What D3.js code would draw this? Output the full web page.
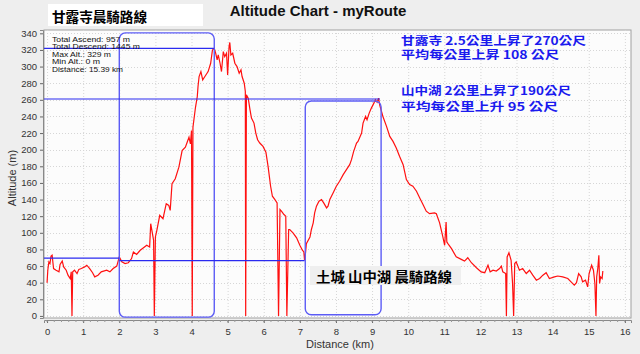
<!DOCTYPE html>
<html>
<head>
<meta charset="utf-8">
<script src="https://cdn.jsdelivr.net/npm/d3@7"></script>
<style>
  html, body { margin: 0; padding: 0; background: #eeeeee; }
  svg { display: block; font-family: "Liberation Sans", Arial, sans-serif; }
  .cjk { font-family: "Noto Sans CJK TC", "Noto Sans CJK SC", sans-serif; }
</style>
</head>
<body>
<div id="chart"></div>
<script>
// profile: distance (km) and altitude (m)
const distKm = [
  0, 0.02, 0.05, 0.08, 0.11, 0.14, 0.18, 0.25, 0.33, 0.36, 0.42, 0.46, 0.53, 0.58, 0.64, 0.67, 0.69, 0.71,
  0.76, 0.83, 0.88, 0.95, 1.04, 1.10, 1.18, 1.26, 1.32, 1.41, 1.50, 1.65, 1.74, 1.83, 1.93, 2.00, 2.07,
  2.16, 2.25, 2.34, 2.39, 2.48, 2.58, 2.67, 2.76, 2.84, 2.87, 2.95, 2.97, 3.00, 3.04, 3.12, 3.21, 3.30,
  3.37, 3.41, 3.46, 3.55, 3.65, 3.74, 3.83, 3.93, 3.97, 4.00, 4.02, 4.04, 4.11, 4.16, 4.18, 4.21, 4.26,
  4.31, 4.37, 4.46, 4.53, 4.58, 4.63, 4.67, 4.71, 4.74, 4.79, 4.83, 4.88, 4.92, 4.97, 5.00, 5.04, 5.06,
  5.09, 5.14, 5.20, 5.26, 5.32, 5.37, 5.40, 5.46, 5.49, 5.50, 5.52, 5.57, 5.62, 5.66, 5.73, 5.78, 5.83,
  5.89, 5.98, 6.06, 6.12, 6.19, 6.24, 6.31, 6.37, 6.41, 6.45, 6.49, 6.56, 6.61, 6.64, 6.69, 6.72, 6.81,
  6.91, 7.00, 7.07, 7.11, 7.13, 7.16, 7.18, 7.28, 7.32, 7.37, 7.41, 7.46, 7.53, 7.60, 7.66, 7.74, 7.78,
  7.83, 7.92, 8.01, 8.10, 8.20, 8.29, 8.38, 8.43, 8.49, 8.57, 8.61, 8.71, 8.75, 8.82, 8.86, 8.92, 8.98,
  9.05, 9.09, 9.14, 9.18, 9.21, 9.30, 9.40, 9.49, 9.58, 9.67, 9.76, 9.86, 9.95, 10.04, 10.13, 10.23,
  10.32, 10.41, 10.50, 10.59, 10.73, 10.78, 10.87, 10.96, 11.01, 11.05, 11.07, 11.10, 11.20, 11.33,
  11.47, 11.56, 11.65, 11.75, 11.89, 12.02, 12.12, 12.21, 12.27, 12.35, 12.44, 12.53, 12.58, 12.62,
  12.70, 12.72, 12.74, 12.79, 12.85, 12.89, 12.92, 12.95, 12.99, 13.08, 13.17, 13.27, 13.36, 13.45,
  13.55, 13.64, 13.73, 13.82, 13.91, 14.05, 14.14, 14.28, 14.42, 14.51, 14.60, 14.66, 14.72, 14.79,
  14.83, 14.91, 14.97, 15.01, 15.08, 15.13, 15.17, 15.20, 15.22, 15.25, 15.28, 15.30, 15.33, 15.37, 15.39
];
const altM = [
  40, 55, 65, 63, 72, 73, 57, 55, 53, 62, 66, 59, 55, 49, 45, 53, 0, 53,
  55, 51, 56, 57, 59, 61, 57, 52, 47, 49, 53, 55, 53, 57, 60, 71, 65,
  63, 64, 69, 77, 74, 79, 82, 85, 83, 111, 91, 0, 95, 103, 121, 117, 135,
  133, 127, 159, 165, 179, 199, 203, 215, 207, 223, 0, 227, 251, 264, 276, 288, 294,
  284, 288, 294, 304, 320, 322, 316, 308, 314, 304, 294, 318, 312, 316, 290, 324, 329,
  314, 316, 304, 300, 292, 296, 288, 280, 270, 0, 266, 262, 248, 238, 232, 220, 212,
  208, 204, 197, 180, 156, 144, 140, 136, 0, 128, 126, 122, 120, 0, 104, 104, 100,
  94, 85, 79, 77, 67, 77, 87, 95, 104, 112, 124, 132, 138, 140, 136, 130, 132,
  140, 148, 156, 162, 170, 176, 182, 188, 198, 208, 210, 220, 232, 240, 236, 244, 250,
  256, 260, 257, 262, 254, 240, 228, 216, 210, 202, 192, 182, 164, 158, 156, 150,
  142, 134, 126, 123, 124, 123, 112, 95, 85, 113, 89, 87, 81, 71,
  68, 66, 70, 64, 58, 53, 52, 61, 53, 55, 54, 57, 60, 53,
  51, 0, 71, 76, 67, 39, 0, 63, 65, 55, 57, 51, 55, 49,
  43, 45, 49, 52, 45, 47, 48, 47, 45, 41, 37, 40, 51, 47,
  41, 43, 35, 51, 61, 55, 39, 0, 47, 57, 73, 39, 47, 45, 54
];

const xTicks = d3.range(0, 17);
const yTicks = d3.range(0, 341, 20);

const statLines = ["Total Ascend: 957 m", "Total Descend: 1445 m", "Max Alt.: 329 m", "Min Alt.: 0 m", "Distance: 15.39 km"];
const statWidths = [78, 88, 59, 48, 71];
const noteLines = ["甘露寺 2.5公里上昇了270公尺", "平均每公里上昇 108 公尺", "山中湖 2公里上昇了190公尺", "平均每公里上升 95 公尺"];
const noteWidths = [185, 158, 170, 157];

// blue guide lines [x0, x1, alt] and boxes [x0, x1, altTop, altBottom]
const guideLines = [[-0.085, 4.62, 322], [-0.085, 9.22, 261], [-0.085, 2.0, 69.5], [2.0, 7.13, 66.5]];
const guideBoxes = [[2.0, 4.63, 340.5, -1.5], [7.15, 9.25, 258.5, 1.5]];

const width = 640, height = 354;
const svg = d3.select("#chart").append("svg")
  .attr("width", width).attr("height", height);

svg.append("rect").attr("width", width).attr("height", height).attr("fill", "#eeeeee");

const x = d3.scaleLinear().domain([-0.085, 16.17]).range([44, 631]);
const y = d3.scaleLinear().domain([-2.5, 344]).range([318, 30]);

const [px0, px1] = x.range();
const [py1, py0] = y.range();

// plot area
svg.append("rect")
  .attr("x", px0).attr("y", py0)
  .attr("width", px1 - px0).attr("height", py1 - py0)
  .attr("fill", "#fcfcfc").attr("stroke", "#a0a0a0");

svg.append("defs").append("clipPath").attr("id", "clip")
  .append("rect").attr("x", px0).attr("y", py0).attr("width", px1 - px0).attr("height", py1 - py0);

const grid = svg.append("g").attr("stroke", "#d6d6d6").attr("stroke-dasharray", "1,2");
grid.selectAll("line.v").data(xTicks).join("line")
  .attr("x1", d => x(d) + 0.5).attr("x2", d => x(d) + 0.5)
  .attr("y1", py0).attr("y2", py1);
grid.selectAll("line.h").data(yTicks).join("line")
  .attr("y1", d => Math.round(y(d)) + 0.5).attr("y2", d => Math.round(y(d)) + 0.5)
  .attr("x1", px0).attr("x2", px1);

// axes
const xAxis = svg.append("g").attr("transform", `translate(0,${py1 + 2})`)
  .call(d3.axisBottom(x).tickValues(xTicks).tickSize(3).tickPadding(5).tickFormat(d3.format("d")));
const yAxis = svg.append("g").attr("transform", `translate(${px0 - 1},0)`)
  .call(d3.axisLeft(y).tickValues(yTicks).tickSize(3).tickPadding(3).tickFormat(d3.format("d")));
[xAxis, yAxis].forEach(a => {
  a.select(".domain").attr("stroke", "#888");
  a.selectAll(".tick line").attr("stroke", "#666");
  a.selectAll("text").attr("font-size", 9.5).attr("fill", "#333")
    .attr("font-family", "'Liberation Sans', Arial, sans-serif");
});
// minor ticks on distance axis
svg.append("g").selectAll("line").data(d3.range(0, 16.01, 0.2)).join("line")
  .attr("x1", d => x(d)).attr("x2", d => x(d))
  .attr("y1", py1 + 2).attr("y2", py1 + 4)
  .attr("stroke", "#999");

svg.append("text").attr("x", 340).attr("y", 348).attr("text-anchor", "middle")
  .attr("font-size", 11).attr("fill", "#333").text("Distance (km)");
svg.append("text").attr("transform", "translate(16,178) rotate(-90)").attr("text-anchor", "middle")
  .attr("font-size", 11).attr("fill", "#333").text("Altitude (m)");

svg.append("text").attr("x", 318).attr("y", 16).attr("text-anchor", "middle")
  .attr("font-size", 15).attr("font-weight", "bold").attr("fill", "#111")
  .text("Altitude Chart - myRoute");

const plot = svg.append("g").attr("clip-path", "url(#clip)");

// profile line
const pts = distKm.map((d, i) => [d, altM[i]]);
plot.append("path").datum(pts)
  .attr("fill", "none").attr("stroke", "#ff1010").attr("stroke-width", 1.2)
  .attr("d", d3.line().x(d => x(d[0])).y(d => y(d[1])));

// annotation boxes and lines
plot.selectAll("rect.box").data(guideBoxes).join("rect")
  .attr("class", "box")
  .attr("x", d => x(d[0])).attr("y", d => y(d[2]))
  .attr("width", d => x(d[1]) - x(d[0])).attr("height", d => y(d[3]) - y(d[2]))
  .attr("rx", 6).attr("fill", "none").attr("stroke", "#5c5cf5").attr("stroke-width", 1.4);
plot.selectAll("line.guide").data(guideLines).join("line")
  .attr("class", "guide")
  .attr("x1", d => x(d[0])).attr("x2", d => x(d[1]))
  .attr("y1", d => y(d[2])).attr("y2", d => y(d[2]))
  .attr("stroke", "#2a2af0").attr("stroke-width", 1.2);

// stats text
svg.append("g").selectAll("text").data(statLines).join("text")
  .attr("x", 52).attr("y", (d, i) => 41.5 + i * 7.6)
  .attr("font-size", 8).attr("fill", "#111")
  .attr("textLength", (d, i) => statWidths[i]).attr("lengthAdjust", "spacingAndGlyphs")
  .text(d => d);

// blue notes
const noteY = [44.5, 59, 95, 111];
svg.append("g").selectAll("text").data(noteLines).join("text")
  .attr("class", "cjk")
  .attr("x", 401).attr("y", (d, i) => noteY[i])
  .attr("font-size", 11.5).attr("font-weight", "bold").attr("fill", "#1a1aee")
  .attr("textLength", (d, i) => noteWidths[i]).attr("lengthAdjust", "spacingAndGlyphs")
  .text(d => d);

// title label top-left
svg.append("rect").attr("x", 48).attr("y", 4).attr("width", 155).attr("height", 22).attr("fill", "#ffffff");
svg.append("text").attr("class", "cjk").attr("x", 52).attr("y", 21.5)
  .attr("font-size", 13.5).attr("font-weight", "bold").attr("fill", "#000")
  .attr("textLength", 95).attr("lengthAdjust", "spacingAndGlyphs")
  .text("甘露寺晨騎路線");

// route label lower
svg.append("rect").attr("x", 310).attr("y", 266).attr("width", 151).attr("height", 19).attr("fill", "#efefef");
svg.append("text").attr("class", "cjk").attr("x", 316).attr("y", 282)
  .attr("font-size", 13.5).attr("font-weight", "bold").attr("fill", "#000")
  .attr("textLength", 136).attr("lengthAdjust", "spacingAndGlyphs")
  .text("土城 山中湖 晨騎路線");
</script>
</body>
</html>
